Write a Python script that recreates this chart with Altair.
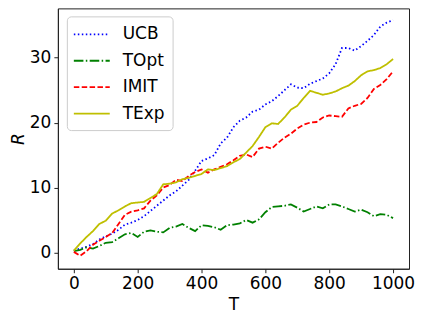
import altair as alt
import pandas as pd

T = list(range(0, 1001, 20))

ucb = [0.3, 0.6, 0.9, 1.3, 2.0, 2.5, 2.9, 3.5, 4.3, 4.6, 5.0, 5.6, 6.4, 7.2, 8.0, 8.8,
       9.4, 10.3, 11.2, 12.6, 14.1, 14.5, 15.0, 16.8, 17.7, 19.3, 20.3, 20.8, 21.7, 22.0,
       22.8, 23.3, 24.1, 25.0, 25.9, 25.4, 25.3, 26.0, 26.4, 26.8, 27.6, 29.0, 31.5, 31.5,
       31.1, 31.8, 32.6, 33.5, 34.8, 35.4, 35.8]
topt = [0.2, 0.4, 0.8, 0.6, 1.0, 1.5, 1.6, 2.2, 2.8, 3.0, 2.4, 3.2, 3.4, 3.2, 3.1, 3.8,
        4.0, 4.4, 3.8, 3.3, 4.2, 4.1, 3.9, 3.5, 4.2, 4.3, 4.5, 5.0, 4.6, 5.1, 6.2, 7.0,
        7.1, 7.2, 7.4, 6.9, 6.3, 6.7, 7.1, 6.8, 7.4, 7.4, 7.1, 6.7, 6.3, 6.6, 6.2, 5.6,
        5.9, 5.8, 5.3]
imit = [0.1, -0.5, 0.2, 1.2, 1.8, 2.4, 3.0, 4.4, 5.8, 6.3, 6.5, 6.8, 8.0, 8.8, 10.0, 10.4,
        11.2, 11.0, 11.8, 12.4, 12.8, 12.3, 12.8, 13.2, 13.6, 14.2, 14.9, 15.1, 14.7, 16.0,
        16.3, 16.0, 16.9, 17.7, 18.3, 19.1, 19.7, 20.0, 20.1, 20.8, 21.1, 21.0, 20.9, 22.2,
        22.6, 22.9, 23.8, 25.2, 25.8, 26.7, 27.9]
texp = [0.3, 1.4, 2.4, 3.3, 4.4, 4.9, 6.0, 6.5, 7.1, 7.6, 7.7, 7.8, 8.4, 9.0, 10.5, 10.6,
        10.8, 11.3, 11.5, 11.8, 12.1, 12.8, 12.7, 13.0, 13.3, 13.9, 14.4, 15.4, 16.4, 17.8,
        19.3, 19.9, 19.8, 20.8, 22.0, 22.6, 23.8, 24.9, 24.6, 24.3, 24.5, 24.8, 25.3, 25.7,
        26.4, 27.3, 27.9, 28.1, 28.4, 29.0, 29.8]

names = ["UCB", "TOpt", "IMIT", "TExp"]
colors = ["#0000ff", "#008000", "#ff0000", "#bfbf00"]
dashes = [[1.5, 2.5], [9.6, 2.4, 1.5, 2.4], [5.5, 2.4], [1, 0]]

rows = []
for name, vals in zip(names, [ucb, topt, imit, texp]):
    for t, v in zip(T, vals):
        rows.append({"T": t, "R": v, "series": name, "ord": names.index(name)})
df = pd.DataFrame(rows)

font = "DejaVu Sans"

legend = alt.Legend(
    title=None, orient="none", legendX=9, legendY=8,
    symbolType="M-2,0H2", symbolSize=324, symbolStrokeWidth=1.8, symbolOffset=7,
    labelFontSize=17, labelFont=font, labelColor="#000", labelOffset=21,
    padding=8, rowPadding=8.5, fillColor="rgba(255,255,255,0.8)",
    strokeColor="#cccccc", cornerRadius=4,
)

chart = alt.Chart(df).mark_line(strokeWidth=1.8).encode(
    x=alt.X("T:Q", scale=alt.Scale(domain=[-50, 1050], nice=False, zero=False),
            axis=alt.Axis(values=[0, 200, 400, 600, 800, 1000], title="T", grid=False, format="d")),
    y=alt.Y("R:Q", scale=alt.Scale(domain=[-2.5, 37.6], nice=False, zero=False),
            axis=alt.Axis(values=[0, 10, 20, 30], title="R", grid=False, format="d",
                          titleFontStyle="italic")),
    color=alt.Color("series:N", scale=alt.Scale(domain=names, range=colors), legend=legend, sort=names),
    strokeDash=alt.StrokeDash("series:N", scale=alt.Scale(domain=names, range=dashes), legend=legend, sort=names),
    order=alt.Order("ord:Q"),
).properties(
    width=352, height=261,
    autosize=alt.AutoSizeParams(type="none"),
    padding={"left": 50, "top": 0, "right": 6, "bottom": 52},
).configure_view(
    stroke="#222", strokeWidth=1
).configure_axis(
    labelFont=font, titleFont=font, labelFontSize=17, titleFontSize=17,
    labelColor="#000", titleColor="#000", titleFontWeight="normal",
    domainColor="#222", tickColor="#222", tickSize=4, labelPadding=3,
).configure_axisX(titlePadding=5).configure_axisY(titlePadding=2)

chart.save("out.html", embed_options={"renderer": "svg", "actions": False})
